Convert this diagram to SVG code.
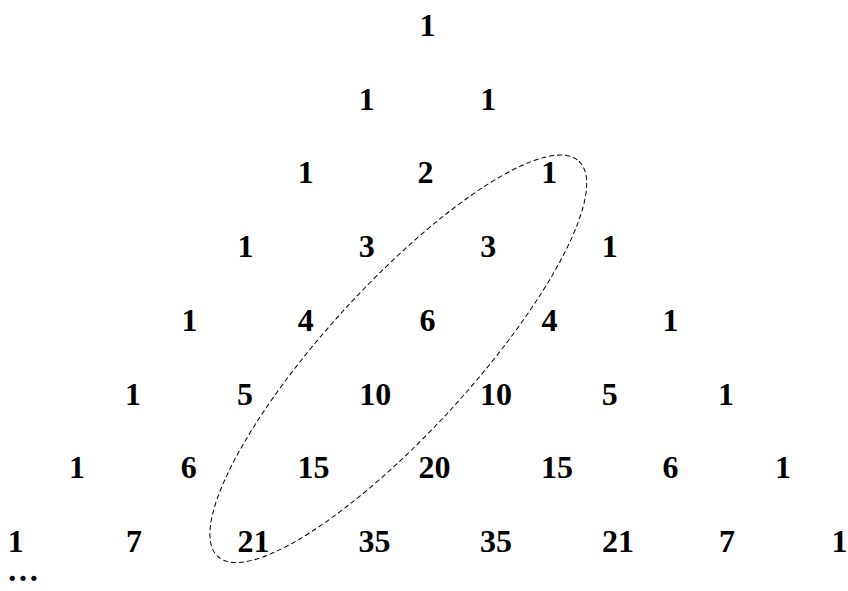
<svg xmlns="http://www.w3.org/2000/svg" width="848" height="591" viewBox="0 0 848 591">
<style>
  text { font-family: "Liberation Serif", "Times New Roman", serif; font-weight: bold; font-size: 32px; fill: #000; text-anchor: middle; }
  .hl { fill: none; stroke: #000; stroke-width: 1; stroke-dasharray: 5 3; }
</style>
<rect width="848" height="591" fill="#fff"/>
<g id="row1"><text x="427.5" y="36">1</text></g>
<g id="row2"><text x="366.7" y="109.7">1</text><text x="488.3" y="109.7">1</text></g>
<g id="row3"><text x="305.8" y="183.4">1</text><text x="425.5" y="183.4">2</text><text x="549.2" y="183.4">1</text></g>
<g id="row4"><text x="245.5" y="257">1</text><text x="366.7" y="257">3</text><text x="488.3" y="257">3</text><text x="609.7" y="257">1</text></g>
<g id="row5"><text x="189.5" y="330.8">1</text><text x="305.8" y="330.8">4</text><text x="427.4" y="330.8">6</text><text x="549.4" y="330.8">4</text><text x="670.4" y="330.8">1</text></g>
<g id="row6"><text x="133" y="404.5">1</text><text x="245" y="404.5">5</text><text x="375.3" y="404.5">10</text><text x="496" y="404.5">10</text><text x="609.8" y="404.5">5</text><text x="726" y="404.5">1</text></g>
<g id="row7"><text x="77" y="478">1</text><text x="188.8" y="478">6</text><text x="313.5" y="478">15</text><text x="434.6" y="478">20</text><text x="557" y="478">15</text><text x="670.6" y="478">6</text><text x="783" y="478">1</text></g>
<g id="row8"><text x="15.8" y="552">1</text><text x="134" y="552">7</text><text x="253.5" y="552">21</text><text x="374.5" y="552">35</text><text x="496" y="552">35</text><text x="618" y="552">21</text><text x="727" y="552">7</text><text x="839.5" y="552">1</text></g>
<g id="ellipsis"><text x="7" y="581" style="text-anchor:start">…</text></g>
<g id="highlight">
  <ellipse class="hl" cx="398.3" cy="358.8" rx="267.7" ry="73" transform="rotate(-47.6 398.3 358.8)"/>
</g>
</svg>
